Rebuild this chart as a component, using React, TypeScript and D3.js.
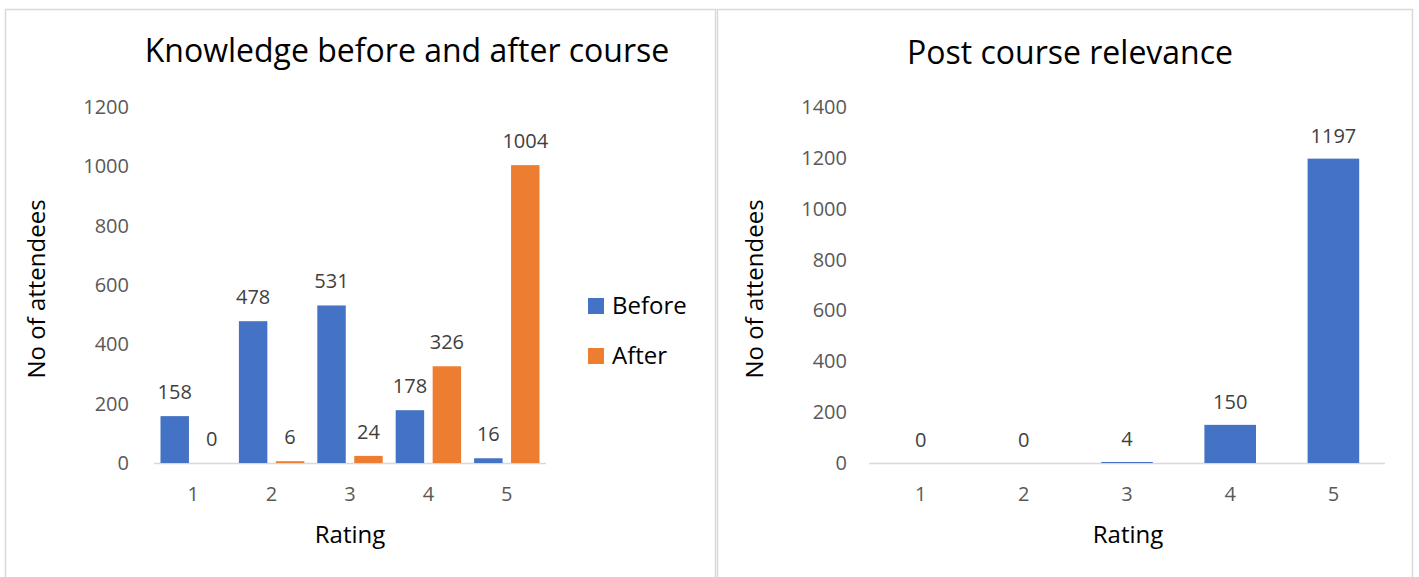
import React from 'react';
import * as d3 from 'd3';

// data
const ratings = ['1', '2', '3', '4', '5'];
const series = ['Before', 'After'];
const beforeValues = [158, 478, 531, 178, 16];
const afterValues = [0, 6, 24, 326, 1004];
const relevanceValues = [0, 0, 4, 150, 1197];
const leftTicks = [0, 200, 400, 600, 800, 1000, 1200];
const rightTicks = [0, 200, 400, 600, 800, 1000, 1200, 1400];

const colors = { Before: '#4472c4', After: '#ed7d31' };
const font = "'Open Sans', sans-serif";
const tickColor = '#595959';
const labelColor = '#404040';

const KnowledgeChart = () => {
  const left = 154;
  const right = 546;
  const top = 107;
  const bottom = 463;

  const x0 = d3.scaleBand().domain(ratings).range([left, right]).padding(0);
  const x1 = d3.scaleBand().domain(series).range([6.5, x0.bandwidth() - 6.5]).paddingInner(0.23);
  const y = d3.scaleLinear().domain([0, 1200]).range([bottom, top]);

  const rows = ratings.map((r, i) => ({ rating: r, Before: beforeValues[i], After: afterValues[i] }));

  return (
    <g>
      <rect x={5.5} y={9.5} width={710} height={600} fill="#fff" stroke="#d9d9d9" strokeWidth={1.5} />
      <text x={407} y={62} textAnchor="middle" fontSize={32} fill="#000">
        Knowledge before and after course
      </text>

      {leftTicks.map((t) => (
        <text key={t} x={129} y={y(t)} dy="0.35em" textAnchor="end" fontSize={20} fill={tickColor}>
          {t}
        </text>
      ))}

      <line x1={left} x2={right} y1={bottom + 0.5} y2={bottom + 0.5} stroke="#d9d9d9" strokeWidth={1.5} />

      {rows.map((d) => (
        <g key={d.rating} transform={`translate(${x0(d.rating)}, 0)`}>
          {series.map((s) => (
            <g key={s}>
              <rect
                x={x1(s)}
                y={y(d[s])}
                width={x1.bandwidth()}
                height={bottom - y(d[s])}
                fill={colors[s]}
              />
              <text
                x={x1(s) + x1.bandwidth() / 2}
                y={y(d[s]) - 24}
                dy="0.35em"
                textAnchor="middle"
                fontSize={20}
                fill={labelColor}
              >
                {d[s]}
              </text>
            </g>
          ))}
          <text x={x0.bandwidth() / 2} y={494} dy="0.35em" textAnchor="middle" fontSize={20} fill={tickColor}>
            {d.rating}
          </text>
        </g>
      ))}

      <text x={350} y={535} dy="0.35em" textAnchor="middle" fontSize={24} fill="#000">
        Rating
      </text>
      <text
        transform={`translate(37, 289) rotate(-90)`}
        dy="0.35em"
        textAnchor="middle"
        fontSize={24}
        fill="#000"
      >
        No of attendees
      </text>

      {series.map((s, i) => (
        <g key={s} transform={`translate(588, ${306 + i * 50})`}>
          <rect x={0} y={-8} width={16} height={16} fill={colors[s]} />
          <text x={24} y={0} dy="0.35em" fontSize={24} fill="#000">
            {s}
          </text>
        </g>
      ))}
    </g>
  );
};

const RelevanceChart = () => {
  const left = 869;
  const right = 1385;
  const top = 107;
  const bottom = 463;

  const x = d3.scaleBand().domain(ratings).range([left, right]).paddingInner(0.5).paddingOuter(0.25);
  const y = d3.scaleLinear().domain([0, 1400]).range([bottom, top]);

  return (
    <g>
      <rect x={717.5} y={9.5} width={695} height={600} fill="#fff" stroke="#d9d9d9" strokeWidth={1.5} />
      <text x={1070} y={64} textAnchor="middle" fontSize={32} fill="#000">
        Post course relevance
      </text>

      {rightTicks.map((t) => (
        <text key={t} x={847} y={y(t)} dy="0.35em" textAnchor="end" fontSize={20} fill={tickColor}>
          {t}
        </text>
      ))}

      <line x1={left} x2={right} y1={bottom + 0.5} y2={bottom + 0.5} stroke="#d9d9d9" strokeWidth={1.5} />

      {ratings.map((r, i) => (
        <g key={r}>
          <rect
            x={x(r)}
            y={y(relevanceValues[i])}
            width={x.bandwidth()}
            height={bottom - y(relevanceValues[i])}
            fill={colors.Before}
          />
          <text
            x={x(r) + x.bandwidth() / 2}
            y={y(relevanceValues[i]) - 23}
            dy="0.35em"
            textAnchor="middle"
            fontSize={20}
            fill={labelColor}
          >
            {relevanceValues[i]}
          </text>
          <text x={x(r) + x.bandwidth() / 2} y={494} dy="0.35em" textAnchor="middle" fontSize={20} fill={tickColor}>
            {r}
          </text>
        </g>
      ))}

      <text x={1128} y={535} dy="0.35em" textAnchor="middle" fontSize={24} fill="#000">
        Rating
      </text>
      <text
        transform={`translate(755, 289) rotate(-90)`}
        dy="0.35em"
        textAnchor="middle"
        fontSize={24}
        fill="#000"
      >
        No of attendees
      </text>
    </g>
  );
};

export default function App() {
  return (
    <svg
      width={1419}
      height={577}
      style={{ position: 'absolute', left: 0, top: 0, display: 'block', fontFamily: font, background: '#fff' }}
    >
      <rect width={1419} height={577} fill="#fff" />
      <KnowledgeChart />
      <RelevanceChart />
    </svg>
  );
}
